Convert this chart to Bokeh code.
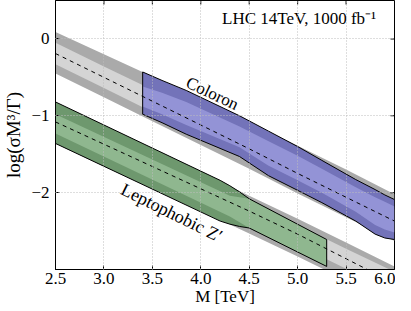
from bokeh.plotting import figure
from bokeh.models import Range1d, FixedTicker, NumeralTickFormatter
from bokeh.core.properties import value
from bokeh.embed import file_html
from bokeh.resources import INLINE

# ---------------- data ----------------
x_lim = (2.5, 6.0)
y_lim = (-3.0, 0.5)

# grid of masses for the grey reference bands
m_grid = [2.5, 3.0, 3.5, 4.0, 4.5, 5.0, 5.5, 6.0]

# Coloron reference band (grey)
col_center = [-0.19, -0.50, -0.81, -1.12, -1.43, -1.75, -2.06, -2.37]
col_out_hi = [0.09, -0.20, -0.49, -0.79, -1.09, -1.39, -1.70, -2.02]
col_out_lo = [-0.45, -0.76, -1.07, -1.38, -1.69, -2.01, -2.32, -2.63]
col_in_hi = [-0.05, -0.36, -0.66, -0.97, -1.28, -1.60, -1.91, -2.22]
col_in_lo = [-0.33, -0.64, -0.95, -1.26, -1.57, -1.89, -2.20, -2.51]

# Leptophobic Z' reference band (grey)
zp_center = [-1.08, -1.37, -1.66, -1.95, -2.24, -2.54, -2.86, -3.18]
zp_out_hi = [-0.82, -1.12, -1.43, -1.73, -2.04, -2.34, -2.65, -2.96]
zp_out_lo = [-1.36, -1.66, -1.95, -2.24, -2.53, -2.83, -3.14, -3.46]
zp_in_hi = [-0.95, -1.24, -1.54, -1.83, -2.13, -2.42, -2.73, -3.03]
zp_in_lo = [-1.23, -1.52, -1.81, -2.10, -2.39, -2.68, -2.99, -3.31]

# Coloron result band (blue)
col_m = [3.4, 3.6, 3.85, 4.4, 4.7, 5.0, 5.25, 5.6, 5.8, 5.9, 6.0]
col_hi = [-0.43, -0.54, -0.67, -1.00, -1.20, -1.40, -1.58, -1.83, -1.96, -2.03, -2.09]
col_lo = [-0.98, -1.09, -1.24, -1.53, -1.78, -1.97, -2.13, -2.37, -2.54, -2.59, -2.61]
col_ihi = [-0.62, -0.70, -0.82, -1.14, -1.33, -1.52, -1.69, -1.93, -2.06, -2.12, -2.18]
col_ilo = [-0.88, -0.98, -1.12, -1.41, -1.65, -1.84, -2.00, -2.25, -2.42, -2.48, -2.52]

# Leptophobic Z' result band (green)
zp_m = [2.5, 4.2, 4.3, 4.4, 4.5, 5.3]
zp_hi = [-0.82, -1.84, -1.91, -1.99, -2.08, -2.61]
zp_lo = [-1.36, -2.37, -2.41, -2.44, -2.46, -2.96]
zp_im = [2.5, 4.3, 4.5, 5.3]
zp_ihi = [-0.98, -2.04, -2.08, -2.61]
zp_ilo = [-1.23, -2.31, -2.46, -2.96]

x_ticks = [2.5, 3.0, 3.5, 4.0, 4.5, 5.0, 5.5, 6.0]
y_ticks = [0, -1, -2]
y_tick_labels = {0: "0", -1: "\u22121", -2: "\u22122"}

# ---------------- styling ----------------
FONT = "Liberation Serif"
GREY_OUT, GREY_IN = "#aaaaaa", "#d4d4d4"
BLUE_OUT, BLUE_IN = "#7373b9", "#9393d6"
GREEN_OUT, GREEN_IN = "#6e986e", "#8fb78f"

p = figure(width=395, height=308, output_backend="svg", toolbar_location=None,
           x_range=Range1d(*x_lim), y_range=Range1d(*y_lim),
           min_border_left=46, min_border_right=1, min_border_top=0,
           min_border_bottom=36)
p.background_fill_color = "white"
p.outline_line_color = "black"
p.outline_line_width = 1

# grey reference bands
for lo, hi, col in [(col_out_lo, col_out_hi, GREY_OUT), (col_in_lo, col_in_hi, GREY_IN),
                    (zp_out_lo, zp_out_hi, GREY_OUT), (zp_in_lo, zp_in_hi, GREY_IN)]:
    p.varea(x=m_grid, y1=lo, y2=hi, fill_color=col, fill_alpha=1.0)

# coloured result bands
p.varea(x=col_m, y1=col_lo, y2=col_hi, fill_color=BLUE_OUT)
p.varea(x=col_m, y1=col_ilo, y2=col_ihi, fill_color=BLUE_IN)
p.patch(x=col_m + col_m[::-1], y=col_hi + col_lo[::-1], fill_alpha=0,
        line_color="black", line_width=1)

p.varea(x=zp_m, y1=zp_lo, y2=zp_hi, fill_color=GREEN_OUT)
p.varea(x=zp_im, y1=zp_ilo, y2=zp_ihi, fill_color=GREEN_IN)
p.patch(x=zp_m + zp_m[::-1], y=zp_hi + zp_lo[::-1], fill_alpha=0,
        line_color="black", line_width=1)

# dashed centre lines
p.line(m_grid, col_center, line_color="black", line_dash="4 4", line_width=1)
p.line(m_grid, zp_center, line_color="black", line_dash="4 4", line_width=1)

# inward ticks on the top and right frame edges (clipped to the frame)
p.rect(x=x_ticks, y=[y_lim[1]] * len(x_ticks), width=1, height=8,
       width_units="screen", height_units="screen", fill_color="black", line_color=None)
p.rect(x=[x_lim[1]] * len(y_ticks), y=y_ticks, width=8, height=1,
       width_units="screen", height_units="screen", fill_color="black", line_color=None)

# texts
p.text(x=[4.22], y=[0.27], text=["LHC 14TeV, 1000 fb\u207b\u00b9"],
       text_font=value(FONT), text_font_size="17px", text_baseline="middle",
       text_align="left", text_color="black")
p.text(x=[4.12], y=[-0.71], text=["Coloron"], angle=-0.44,
       text_font=value(FONT), text_font_size="17px", text_baseline="middle",
       text_align="center", text_color="black")
p.text(x=[3.70], y=[-2.26], text=["Leptophobic Z\u2032"], angle=-0.46,
       text_font=value(FONT), text_font_size="18px", text_baseline="middle",
       text_align="center", text_color="black")

# grid
for g in (p.xgrid, p.ygrid):
    g.grid_line_color = "#bdbdbd"
    g.grid_line_dash = "1 2"
    g.grid_line_width = 1
    g.level = "guide"
p.xgrid.ticker = FixedTicker(ticks=x_ticks)
p.ygrid.ticker = FixedTicker(ticks=y_ticks)

# axes
p.xaxis.ticker = FixedTicker(ticks=x_ticks)
p.xaxis.formatter = NumeralTickFormatter(format="0.0")
p.yaxis.ticker = FixedTicker(ticks=y_ticks)
p.yaxis.major_label_overrides = y_tick_labels
p.xaxis.axis_label = "M [TeV]"
p.yaxis.axis_label = "log(\u03c3M\u00b3/\u0393)"
for ax in (p.xaxis, p.yaxis):
    ax.major_tick_in = 4
    ax.major_tick_out = 0
    ax.minor_tick_line_color = None
    ax.axis_line_color = "black"
    ax.major_label_text_font = FONT
    ax.major_label_text_font_size = "17px"
    ax.major_label_text_color = "black"
    ax.axis_label_text_font = FONT
    ax.axis_label_text_font_size = "17px"
    ax.axis_label_text_font_style = "normal"
    ax.axis_label_text_color = "black"
p.yaxis.axis_label_text_font_size = "19px"
p.xaxis.major_label_standoff = 3
p.xaxis.axis_label_standoff = 0
p.yaxis.major_label_standoff = 6
p.yaxis.axis_label_standoff = 4

open("out.html", "w").write(file_html(p, INLINE))
